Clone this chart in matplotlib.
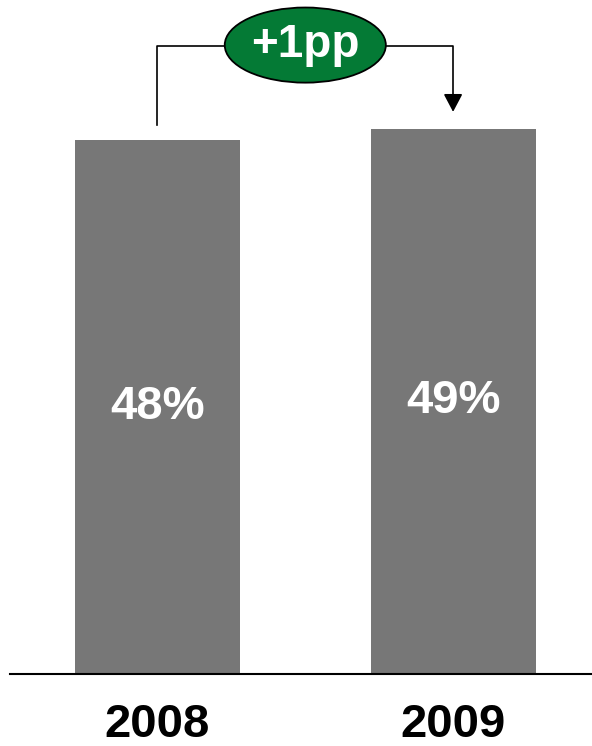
import matplotlib
matplotlib.use("Agg")
import matplotlib.pyplot as plt
from matplotlib.patches import Ellipse

plt.rcParams['font.family'] = ['Liberation Sans', 'DejaVu Sans']

years = ['2008', '2009']
share = [48, 49]
value_labels = ['48%', '49%']
change_label = '+1pp'

bar_color = '#777777'
green = '#047A35'

fig = plt.figure(figsize=(5.92, 7.46), dpi=100)
ax = fig.add_axes([10/592, 72/746, 582/592, 674/746])

x = range(len(years))
ax.bar(x, share, width=0.558, color=bar_color)

# percentage labels inside the bars
for i, v in enumerate(share):
    ax.text(i, v/2, value_labels[i], ha='center', va='center',
            color='white', fontsize=34, fontweight='bold')

ax.set_xlim(-0.499, 1.470)
ax.set_ylim(0, 60.55)
ax.set_xticks(list(x))
ax.set_xticklabels(years, fontsize=34, fontweight='bold')
ax.tick_params(axis='x', length=0, pad=21)
ax.set_yticks([])
for s in ['top', 'right', 'left']:
    ax.spines[s].set_visible(False)
ax.spines['bottom'].set_linewidth(1.5)

# change bubble with connector
y_top = max(share) + 7.4
ell_w, ell_h = 0.545, 6.75
cx = 0.5
ax.plot([0, 0, cx - ell_w/2], [share[0] + 1.3, y_top, y_top],
        color='black', lw=1.2, clip_on=False)
ax.annotate('', xy=(1, share[1] + 1.5), xytext=(cx + ell_w/2, y_top),
            arrowprops=dict(arrowstyle='-|>,head_length=11,head_width=5.8',
                            connectionstyle='angle,angleA=0,angleB=90,rad=0',
                            color='black', lw=1.2, mutation_scale=1,
                            shrinkA=0, shrinkB=0),
            annotation_clip=False)
ax.add_patch(Ellipse((cx, y_top + 0.1), ell_w, ell_h, facecolor=green,
                     edgecolor='black', lw=1.3, clip_on=False, zorder=3))
ax.text(cx, y_top + 0.1, change_label, ha='center', va='center',
        color='white', fontsize=33, fontweight='bold', zorder=4)

fig.savefig('out.png', dpi=100)
